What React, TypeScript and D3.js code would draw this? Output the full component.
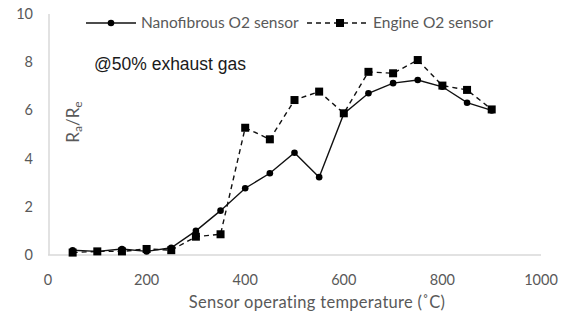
import React from "react";
import * as d3 from "d3";

const temps = [50, 100, 150, 200, 250, 300, 350, 400, 450, 500, 550, 600, 650, 700, 750, 800, 850, 900];
const nanofibrous = [0.2, 0.15, 0.25, 0.15, 0.3, 1.0, 1.84, 2.77, 3.39, 4.24, 3.23, 5.86, 6.71, 7.13, 7.26, 6.98, 6.32, 6.0];
const engine = [0.1, 0.15, 0.15, 0.25, 0.2, 0.76, 0.86, 5.28, 4.8, 6.43, 6.78, 5.88, 7.6, 7.54, 8.09, 7.03, 6.85, 6.04];
const xTicks = [0, 200, 400, 600, 800, 1000];
const yTicks = [0, 2, 4, 6, 8, 10];

const W = 564;
const H = 326;
const FONT = "Lato, 'Open Sans', sans-serif";

export default function App() {
  const x = d3.scaleLinear().domain([0, 1000]).range([48, 541]);
  const y = d3.scaleLinear().domain([0, 10]).range([255, 14]);
  const line = d3
    .line<number>()
    .x((_, i) => x(temps[i]))
    .y((d) => y(d));

  return (
    <svg
      width={W}
      height={H}
      style={{ position: "absolute", left: 0, top: 0, background: "#fff" }}
      fontFamily={FONT}
    >
      <rect x={0} y={0} width={W} height={H} fill="#fff" />
      {/* axes */}
      <line x1={x(0)} x2={x(1000)} y1={y(0)} y2={y(0)} stroke="#d9d9d9" strokeWidth={1.5} />
      <line x1={49} x2={49} y1={y(10)} y2={y(0)} stroke="#d9d9d9" strokeWidth={1.5} />
      {yTicks.map((t) => (
        <text key={"y" + t} x={33} y={y(t)} dy="0.35em" textAnchor="end" fontSize={14.5} fill="#595959">
          {t}
        </text>
      ))}
      {xTicks.map((t) => (
        <text key={"x" + t} x={x(t)} y={280} dy="0.35em" textAnchor="middle" fontSize={14.5} fill="#595959">
          {t}
        </text>
      ))}
      <text x={317} y={302} dy="0.35em" textAnchor="middle" fontSize={16.5} letterSpacing={0.3} fill="#595959">
        Sensor operating temperature (˚C)
      </text>
      <text
        transform={`translate(73,122) rotate(-90)`}
        textAnchor="middle"
        dy="0.35em"
        fontSize={17}
        fill="#595959"
      >
        R
        <tspan fontSize={12} dy="3">a</tspan>
        <tspan dy="-3">/R</tspan>
        <tspan fontSize={12} dy="3">e</tspan>
      </text>
      {/* series */}
      <path d={line(engine) || ""} fill="none" stroke="#111" strokeWidth={1.4} strokeDasharray="5,4" />
      <path d={line(nanofibrous) || ""} fill="none" stroke="#111" strokeWidth={1.4} />
      {engine.map((v, i) => (
        <rect key={"e" + i} x={x(temps[i]) - 4} y={y(v) - 4} width={8} height={8} fill="#000" />
      ))}
      {nanofibrous.map((v, i) => (
        <circle key={"n" + i} cx={x(temps[i])} cy={y(v)} r={3.3} fill="#000" />
      ))}
      {/* legend */}
      <line x1={86} x2={136} y1={23} y2={23} stroke="#111" strokeWidth={1.4} />
      <circle cx={111} cy={23} r={3.3} fill="#000" />
      <text x={141} y={23} dy="0.35em" fontSize={15.5} fill="#595959">
        Nanofibrous O2 sensor
      </text>
      <line x1={307} x2={367} y1={23} y2={23} stroke="#111" strokeWidth={1.4} strokeDasharray="5,4" />
      <rect x={336} y={19} width={8} height={8} fill="#000" />
      <text x={373} y={23} dy="0.35em" fontSize={15.5} fill="#595959">
        Engine O2 sensor
      </text>
      <text x={94} y={64} dy="0.35em" fontSize={17.5} fill="#1a1a1a" fontFamily="'Liberation Sans', Arial, sans-serif">
        @50% exhaust gas
      </text>
    </svg>
  );
}
